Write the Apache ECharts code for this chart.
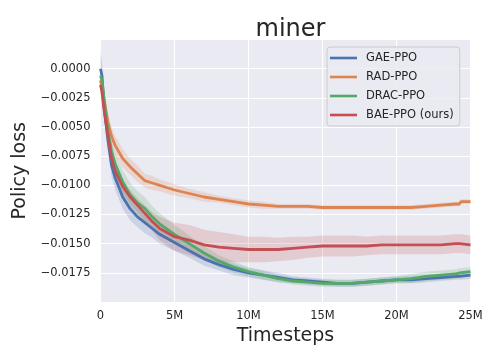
<!DOCTYPE html>
<html>
<head>
<meta charset="utf-8">
<script src="https://cdn.jsdelivr.net/npm/echarts@6/dist/echarts.min.js"></script>
<style>
  html, body { margin: 0; padding: 0; background: #fff; }
  #chart { width: 498px; height: 360px; }
</style>
</head>
<body>
<div id="chart"></div>
<script>
// timesteps in millions
var steps = [0, 0.1, 0.25, 0.5, 0.75, 1, 1.5, 2, 2.5, 3, 3.5, 4, 5, 6, 7, 8, 9, 10, 11, 12, 13, 14, 15, 16, 17, 18, 19, 20, 21, 22, 23, 24, 24.25, 24.35, 25];

var gae = [0.0000, -0.0006, -0.0034, -0.0061, -0.0083, -0.0094, -0.0110, -0.0120, -0.0127, -0.0132, -0.0137, -0.0142, -0.0149, -0.0156, -0.0163, -0.0168, -0.0172, -0.0175, -0.0177, -0.0179, -0.0181, -0.0182, -0.0183, -0.0184, -0.0184, -0.0183, -0.0182, -0.0181, -0.0181, -0.0180, -0.0179, -0.0178, -0.0178, -0.0178, -0.0177];
var rad = [-0.0010, -0.0017, -0.0027, -0.0046, -0.0058, -0.0066, -0.0077, -0.0084, -0.0090, -0.0096, -0.0098, -0.0100, -0.0104, -0.0107, -0.0110, -0.0112, -0.0114, -0.0116, -0.0117, -0.0118, -0.0118, -0.0118, -0.0119, -0.0119, -0.0119, -0.0119, -0.0119, -0.0119, -0.0119, -0.0118, -0.0117, -0.0116, -0.0116, -0.0114, -0.0114];
var drac = [-0.0006, -0.0010, -0.0027, -0.0053, -0.0071, -0.0082, -0.0097, -0.0108, -0.0115, -0.0120, -0.0127, -0.0133, -0.0142, -0.0150, -0.0158, -0.0165, -0.0170, -0.0174, -0.0177, -0.0180, -0.0182, -0.0183, -0.0184, -0.0184, -0.0184, -0.0183, -0.0182, -0.0181, -0.0180, -0.0178, -0.0177, -0.0176, -0.0175, -0.0175, -0.0174];
var bae = [-0.0014, -0.0020, -0.0036, -0.0057, -0.0077, -0.0088, -0.0101, -0.0110, -0.0117, -0.0124, -0.0131, -0.0137, -0.0144, -0.0147, -0.0151, -0.0153, -0.0154, -0.0155, -0.0155, -0.0155, -0.0154, -0.0153, -0.0152, -0.0152, -0.0152, -0.0152, -0.0151, -0.0151, -0.0151, -0.0151, -0.0151, -0.0150, -0.0150, -0.0150, -0.0151];

// half width of the shaded bands
var gaeSd = [0.0014, 0.0012, 0.0010, 0.0010, 0.0010, 0.0010, 0.0010, 0.0010, 0.0009, 0.0009, 0.0008, 0.0008, 0.0007, 0.0006, 0.0006, 0.0005, 0.0005, 0.0004, 0.0004, 0.0004, 0.0003, 0.0003, 0.0003, 0.0003, 0.0003, 0.0003, 0.0003, 0.0003, 0.0003, 0.0003, 0.0003, 0.0003, 0.0003, 0.0003, 0.0003];
var radSd = [0.0008, 0.0008, 0.0008, 0.0008, 0.0008, 0.0008, 0.0008, 0.0007, 0.0007, 0.0006, 0.0006, 0.0005, 0.0005, 0.0004, 0.0004, 0.0003, 0.0003, 0.0003, 0.0003, 0.0002, 0.0002, 0.0002, 0.0002, 0.0002, 0.0002, 0.0002, 0.0002, 0.0002, 0.0002, 0.0002, 0.0002, 0.0002, 0.0002, 0.0002, 0.0002];
var dracSd = [0.0006, 0.0006, 0.0006, 0.0007, 0.0008, 0.0009, 0.0010, 0.0010, 0.0010, 0.0010, 0.0009, 0.0009, 0.0008, 0.0007, 0.0006, 0.0005, 0.0005, 0.0004, 0.0004, 0.0003, 0.0003, 0.0003, 0.0003, 0.0003, 0.0003, 0.0003, 0.0003, 0.0003, 0.0004, 0.0004, 0.0004, 0.0004, 0.0004, 0.0004, 0.0004];
var baeSd = [0.0008, 0.0008, 0.0007, 0.0006, 0.0006, 0.0006, 0.0006, 0.0006, 0.0006, 0.0007, 0.0008, 0.0010, 0.0012, 0.0013, 0.0013, 0.0013, 0.0012, 0.0011, 0.0011, 0.0010, 0.0010, 0.0009, 0.0009, 0.0009, 0.0009, 0.0008, 0.0008, 0.0008, 0.0008, 0.0008, 0.0008, 0.0008, 0.0008, 0.0008, 0.0008];

var names = ["GAE-PPO", "RAD-PPO", "DRAC-PPO", "BAE-PPO (ours)"];
var colors = ["#4C72B0", "#DD8452", "#55A868", "#C44E52"];
var bands = ["rgba(76,114,176,0.2)", "rgba(221,132,82,0.2)", "rgba(85,168,104,0.2)", "rgba(196,78,82,0.2)"];
var means = [gae, rad, drac, bae];
var sds = [gaeSd, radSd, dracSd, baeSd];

var myChart = echarts.init(document.getElementById("chart"));
var series = [];

// shaded bands: one polygon per series, drawn at the first item
function bandRenderer(fill) {
    return function (params, api) {
        if (params.dataIndexInside !== 0) return null;
        var n = params.dataInsideLength;
        var top = [];
        var bottom = [];
        for (let j = 0; j < n; j++) {
            top.push(api.coord([api.value(0, j), api.value(2, j)]));
            bottom.push(api.coord([api.value(0, j), api.value(1, j)]));
        }
        return {
            type: "polygon",
            shape: { points: top.concat(bottom.reverse()) },
            style: { fill: fill },
            silent: true,
        };
    };
}

for (let k = 0; k < means.length; k++) {
    let rows = [];
    for (let i = 0; i < steps.length; i++) {
        rows.push([steps[i], means[k][i] - sds[k][i], means[k][i] + sds[k][i]]);
    }
    series.push({
        type: "custom",
        renderItem: bandRenderer(bands[k]),
        encode: { x: 0, y: [1, 2] },
        clip: true,
        silent: true,
        data: rows,
        z: 1,
    });
}

for (let k = 0; k < means.length; k++) {
    series.push({
        name: names[k],
        type: "line",
        symbol: "none",
        color: colors[k],
        lineStyle: { width: 2.8, color: colors[k] },
        data: steps.map(function (t, i) { return [t, means[k][i]]; }),
        z: 3,
    });
}

var option = {
    animation: false,
    textStyle: { fontFamily: "DejaVu Sans" },
    title: {
        text: "miner",
        left: 285.5,
        textAlign: "center",
        top: 13,
        textStyle: { fontSize: 24, fontWeight: "normal", color: "#262626", fontFamily: "DejaVu Sans" },
    },
    grid: {
        left: 100.5,
        right: 27.5,
        top: 39.5,
        bottom: 58,
        show: true,
        backgroundColor: "#EAEAF2",
        borderWidth: 0,
    },
    legend: {
        data: names,
        orient: "vertical",
        left: 327,
        top: 47,
        padding: [5, 6, 5, 3],
        icon: "rect",
        itemWidth: 27,
        itemHeight: 2.6,
        itemGap: 7,
        backgroundColor: "rgba(234,234,242,0.8)",
        borderColor: "#cccccc",
        borderWidth: 1,
        borderRadius: 3,
        textStyle: { fontSize: 11.5, lineHeight: 12, color: "#262626", fontFamily: "DejaVu Sans", padding: [0, 0, 0, 4] },
    },
    xAxis: {
        type: "value",
        min: 0,
        max: 25,
        interval: 5,
        name: "Timesteps",
        nameLocation: "middle",
        nameGap: 22,
        nameTextStyle: { fontSize: 19, color: "#262626", fontFamily: "DejaVu Sans" },
        axisLine: { show: false },
        axisTick: { show: false },
        axisLabel: {
            fontSize: 11.5,
            color: "#262626",
            margin: 8,
            formatter: function (v) { return v === 0 ? "0" : v + "M"; },
        },
        splitLine: { lineStyle: { color: "#ffffff", width: 1 } },
    },
    yAxis: {
        type: "value",
        min: -0.02,
        max: 0.0025,
        interval: 0.0025,
        name: "Policy loss",
        nameLocation: "middle",
        nameGap: 62,
        nameTextStyle: { fontSize: 19, color: "#262626", fontFamily: "DejaVu Sans" },
        axisLine: { show: false },
        axisTick: { show: false },
        axisLabel: {
            fontSize: 11.5,
            color: "#262626",
            margin: 10,
            formatter: function (v) {
                if (v < -0.019 || v > 0.001) return "";
                return (v < -1e-9 ? "\u2212" : "") + Math.abs(v).toFixed(4);
            },
        },
        splitLine: { lineStyle: { color: "#ffffff", width: 1 } },
    },
    series: series,
};

option && myChart.setOption(option);
</script>
</body>
</html>
